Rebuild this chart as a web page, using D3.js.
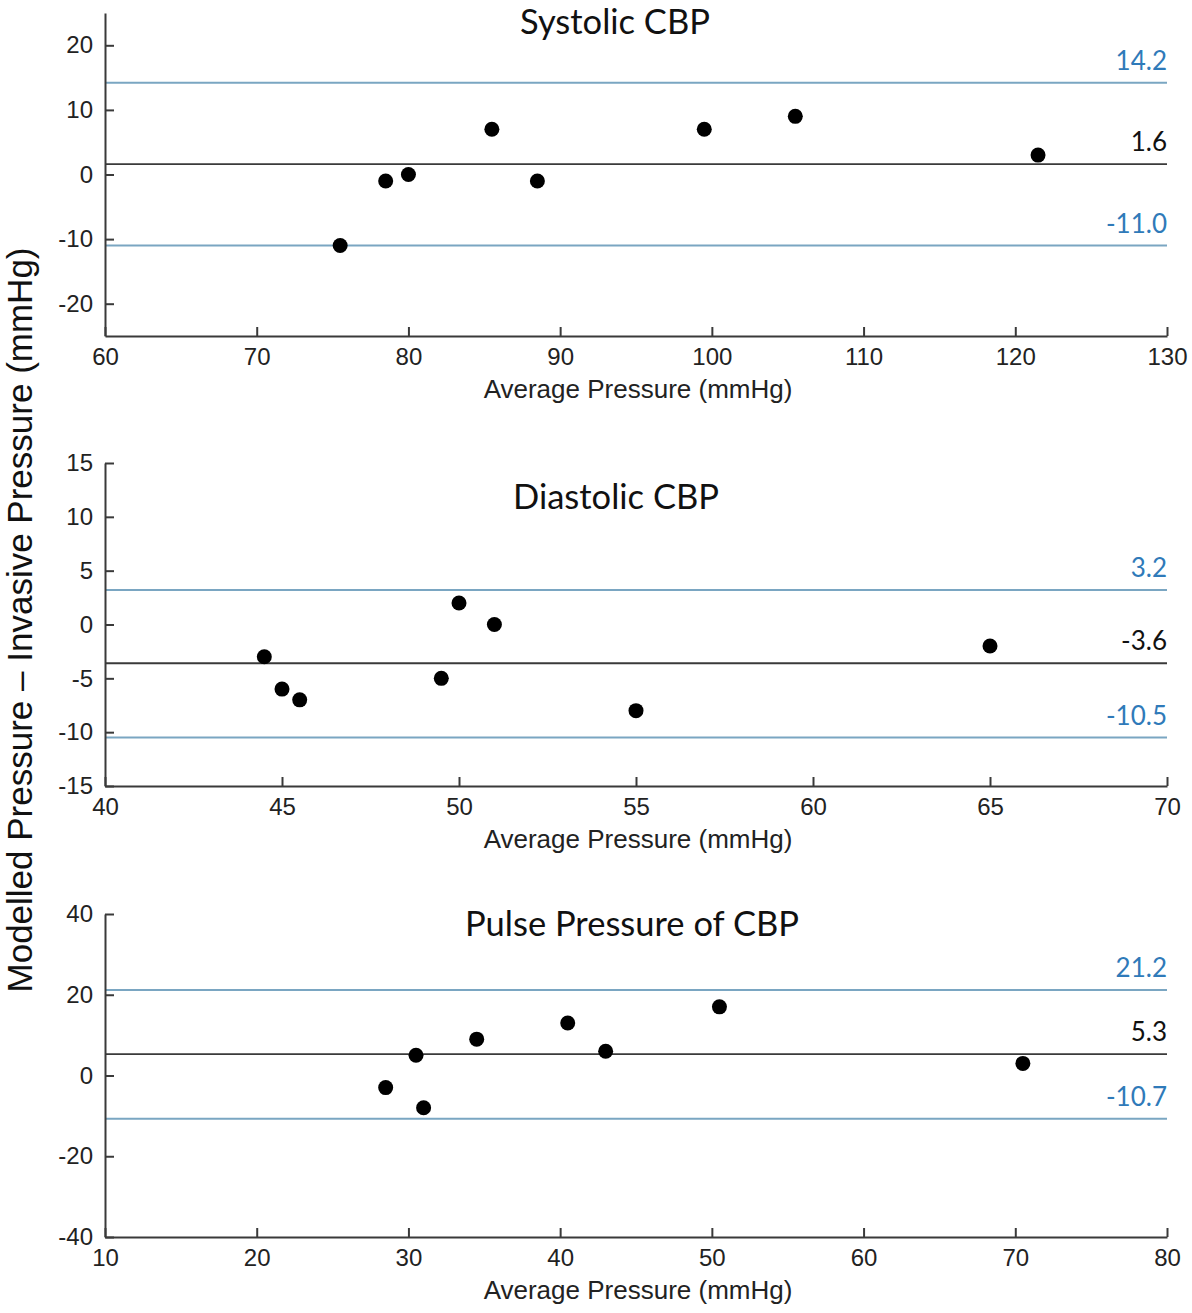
<!DOCTYPE html>
<html>
<head>
<meta charset="utf-8">
<script src="https://cdn.jsdelivr.net/npm/d3@7"></script>
<style>
  body { margin: 0; background: #fff; }
</style>
</head>
<body>
<div id="chart"></div>
<script>
// data
const panelTitles = ['Systolic CBP', 'Diastolic CBP', 'Pulse Pressure of CBP'];

const systolicAvg = [75.5, 78.5, 80, 85.5, 88.5, 99.5, 105.5, 121.5];
const systolicDiff = [-11, -1, 0, 7, -1, 7, 9, 3];
const systolicLimits = [14.2, 1.6, -11.0];

const diastolicAvg = [44.5, 45, 45.5, 49.5, 50, 51, 55, 65];
const diastolicDiff = [-3, -6, -7, -5, 2, 0, -8, -2];
const diastolicLimits = [3.2, -3.6, -10.5];

const pulseAvg = [28.5, 30.5, 31, 34.5, 40.5, 43, 50.5, 70.5];
const pulseDiff = [-3, 5, -8, 9, 13, 6, 17, 3];
const pulseLimits = [21.2, 5.3, -10.7];

const xDomains = [[60, 130], [40, 70], [10, 80]];
const yDomains = [[-25, 25], [-15, 15], [-40, 40]];
const xTicks = [
  [60, 70, 80, 90, 100, 110, 120, 130],
  [40, 45, 50, 55, 60, 65, 70],
  [10, 20, 30, 40, 50, 60, 70, 80]
];
const yTicks = [
  [-20, -10, 0, 10, 20],
  [-15, -10, -5, 0, 5, 10, 15],
  [-40, -20, 0, 20, 40]
];

const xTitle = 'Average Pressure (mmHg)';
const yTitle = 'Modelled Pressure \u2013 Invasive Pressure (mmHg)';

// layout
const config = {
  width: 1192,
  height: 1313,
  left: 105,
  right: 1167,
  plotHeight: 323
};
const panelLayout = [
  { top: 13, titleX: 615, titleY: 34 },
  { top: 463, titleX: 616, titleY: 509 },
  { top: 914, titleX: 632, titleY: 936 }
];

const limitBlue = '#7aa6c2';
const labelBlue = '#2f7ab9';
const meanGray = '#3a3a3a';
const arial = '"Liberation Sans", Arial, sans-serif';
const calibriLike = 'Lato, "Open Sans", sans-serif';

const panels = [
  { avg: systolicAvg, diff: systolicDiff, limits: systolicLimits },
  { avg: diastolicAvg, diff: diastolicDiff, limits: diastolicLimits },
  { avg: pulseAvg, diff: pulseDiff, limits: pulseLimits }
];

const svg = d3.select('#chart')
  .append('svg')
  .attr('width', config.width)
  .attr('height', config.height);

function styleAxis($axis) {
  $axis.selectAll('path, line')
    .attr('stroke', meanGray)
    .attr('stroke-width', 2);
  $axis.selectAll('text')
    .attr('font-family', arial)
    .attr('font-size', 24)
    .attr('fill', '#222');
}

panels.forEach((panel, i) => {
  const layout = panelLayout[i];
  const bottom = layout.top + config.plotHeight;

  const x = d3.scaleLinear()
    .domain(xDomains[i])
    .range([config.left, config.right]);

  const y = d3.scaleLinear()
    .domain(yDomains[i])
    .range([bottom, layout.top]);

  const $g = svg.append('g');

  // limit lines + labels (upper, mean, lower)
  panel.limits.forEach((value, j) => {
    const isMean = j === 1;
    $g.append('line')
      .attr('x1', config.left)
      .attr('x2', config.right)
      .attr('y1', y(value))
      .attr('y2', y(value))
      .attr('stroke', isMean ? meanGray : limitBlue)
      .attr('stroke-width', isMean ? 1.8 : 2);

    $g.append('text')
      .attr('x', config.right)
      .attr('y', y(value) - 13)
      .attr('text-anchor', 'end')
      .attr('font-family', calibriLike)
      .attr('font-size', 26)
      .attr('fill', isMean ? '#111' : labelBlue)
      .text(value.toFixed(1));
  });

  // axes, ticks pointing inward
  $g.append('g')
    .attr('transform', `translate(${config.left},0)`)
    .call(d3.axisLeft(y)
      .tickValues(yTicks[i])
      .tickSizeInner(-9)
      .tickSizeOuter(0)
      .tickPadding(12)
      .tickFormat(d => String(d)))
    .call(styleAxis);

  $g.append('g')
    .attr('transform', `translate(0,${bottom})`)
    .call(d3.axisBottom(x)
      .tickValues(xTicks[i])
      .tickSizeInner(-9)
      .tickSizeOuter(0)
      .tickPadding(12)
      .tickFormat(d => String(d)))
    .call(styleAxis);

  $g.selectAll('circle')
    .data(panel.avg.map((d, k) => [d, panel.diff[k]]))
    .enter()
    .append('circle')
    .attr('cx', d => x(d[0]))
    .attr('cy', d => y(d[1]))
    .attr('r', 7.5)
    .attr('fill', '#000');

  $g.append('text')
    .attr('x', layout.titleX)
    .attr('y', layout.titleY)
    .attr('text-anchor', 'middle')
    .attr('font-family', calibriLike)
    .attr('font-size', 34.5)
    .attr('fill', '#111')
    .text(panelTitles[i]);

  $g.append('text')
    .attr('x', (config.left + config.right) / 2 + 2)
    .attr('y', bottom + 62)
    .attr('text-anchor', 'middle')
    .attr('font-family', arial)
    .attr('font-size', 26)
    .attr('fill', '#222')
    .text(xTitle);
});

svg.append('text')
  .attr('transform', 'translate(32,620) rotate(-90)')
  .attr('text-anchor', 'middle')
  .attr('font-family', arial)
  .attr('font-size', 35)
  .attr('fill', '#111')
  .text(yTitle);
</script>
</body>
</html>
